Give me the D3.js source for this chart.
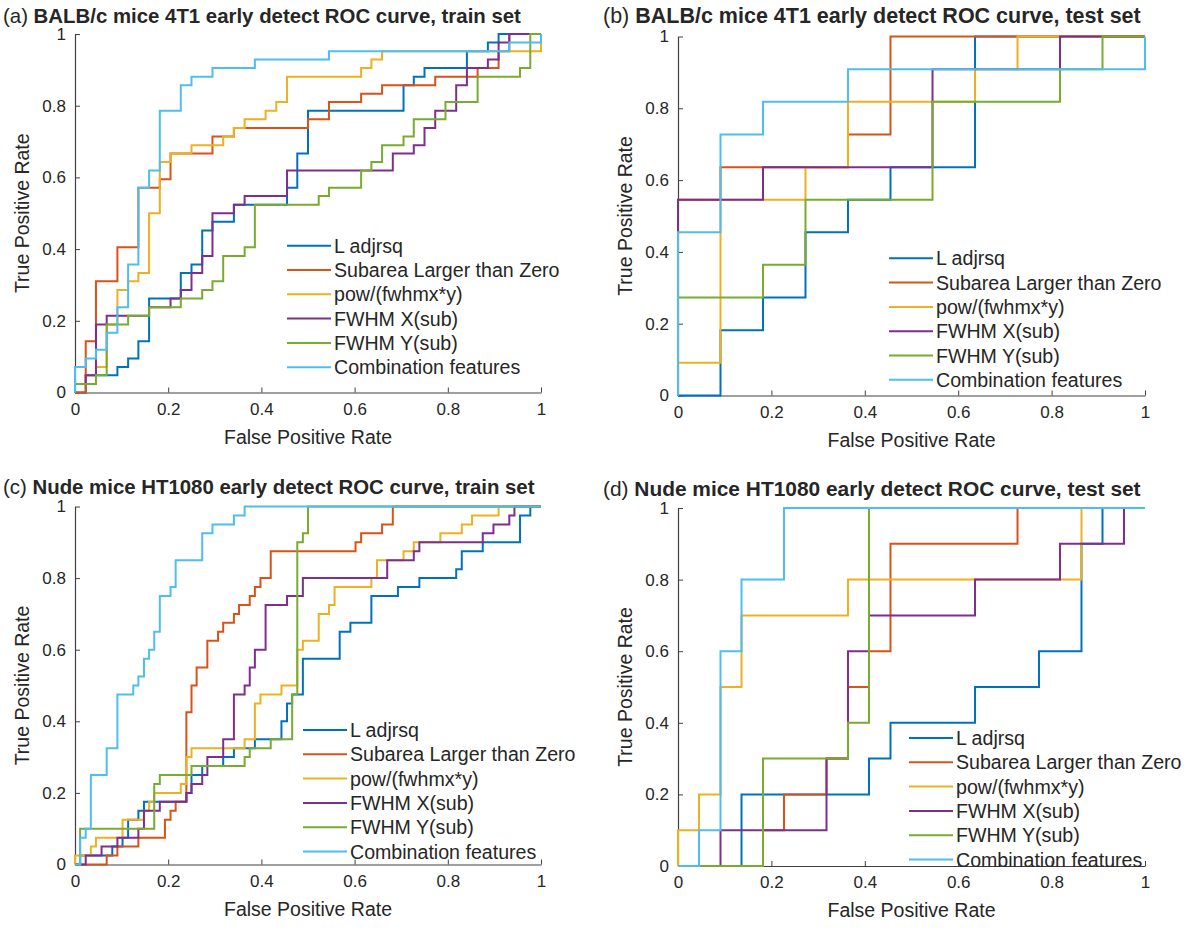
<!DOCTYPE html>
<html><head><meta charset="utf-8">
<script src="https://cdn.jsdelivr.net/npm/d3@7"></script>
<style>
body{margin:0;background:#fff}
text{font-family:"Liberation Sans",Arial,Helvetica,sans-serif;fill:#262626}
</style>
</head><body>
<svg id="chart" width="1194" height="930"></svg>
<script>
// ---------- shared ----------
const seriesNames = ["L adjrsq","Subarea Larger than Zero","pow/(fwhmx*y)","FWHM X(sub)","FWHM Y(sub)","Combination features"];
const seriesColors = ["#0072BD","#D95319","#EDB120","#7E2F8E","#77AC30","#4DBEEE"];
const tickValues = [0,0.2,0.4,0.6,0.8,1];
const tickLabels = ["0","0.2","0.4","0.6","0.8","1"];
const panelTitles = [
  ["(a) ","BALB/c mice 4T1 early detect ROC curve, train set"],
  ["(b) ","BALB/c mice 4T1 early detect ROC curve, test set"],
  ["(c) ","Nude mice HT1080 early detect ROC curve, train set"],
  ["(d) ","Nude mice HT1080 early detect ROC curve, test set"]
];
const xLabel = "False Positive Rate";
const yLabel = "True Positive Rate";

// ---------- (a) BALB/c train : [FPR, TPR] step corners ----------
const aL = [[0,0],[.023,.048],[.091,.071],[.114,.095],[.136,.143],[.159,.262],[.227,.333],[.25,.357],[.273,.452],[.295,.476],[.341,.524],[.455,.571],[.477,.667],[.5,.786],[.705,.857],[.727,.881],[.75,.905],[.841,.952],[.886,.976],[.909,1],[1,1]];
const aSub = [[0,0],[.023,.143],[.045,.31],[.091,.405],[.136,.571],[.182,.595],[.205,.667],[.295,.714],[.341,.738],[.5,.762],[.545,.81],[.614,.833],[.659,.857],[.773,.881],[.864,.905],[.909,.952],[.932,1],[1,1]];
const aPow = [[0,0],[0,.024],[.023,.048],[.045,.071],[.068,.19],[.091,.286],[.114,.31],[.136,.333],[.159,.5],[.182,.643],[.205,.667],[.25,.69],[.318,.714],[.341,.738],[.364,.762],[.409,.786],[.432,.81],[.455,.881],[.614,.905],[.636,.929],[.659,.952],[1,1]];
const aFx = [[0,0],[0,.024],[.023,.048],[.045,.19],[.068,.214],[.159,.238],[.205,.262],[.227,.286],[.25,.333],[.273,.381],[.295,.5],[.341,.524],[.364,.548],[.455,.619],[.682,.667],[.727,.69],[.75,.738],[.773,.786],[.818,.857],[.841,.905],[.886,.929],[.909,.976],[.932,1],[1,1]];
const aFy = [[0,0],[0,.024],[.045,.048],[.068,.19],[.114,.214],[.159,.238],[.227,.262],[.273,.286],[.295,.31],[.318,.381],[.364,.405],[.386,.524],[.523,.548],[.545,.571],[.614,.619],[.636,.643],[.659,.69],[.705,.714],[.727,.762],[.795,.81],[.864,.881],[.955,.905],[.977,1],[1,1]];
const aComb = [[0,0],[0,.071],[.023,.095],[.045,.119],[.068,.167],[.091,.238],[.114,.357],[.136,.571],[.159,.619],[.182,.786],[.227,.857],[.25,.881],[.295,.905],[.386,.929],[.545,.952],[.932,.976],[1,1]];

// ---------- (b) BALB/c test ----------
const bL = [[0,0],[.091,.182],[.182,.273],[.273,.455],[.364,.545],[.455,.636],[.636,1],[1,1]];
const bSub = [[0,0],[0,.545],[.091,.636],[.364,.727],[.455,1],[1,1]];
const bPow = [[0,0],[0,.091],[.091,.545],[.273,.636],[.364,.818],[.636,.909],[.727,1],[1,1]];
const bFx = [[0,0],[0,.545],[.182,.636],[.545,.909],[.818,1],[1,1]];
const bFy = [[0,0],[0,.273],[.182,.364],[.273,.545],[.545,.818],[.818,.909],[.909,1],[1,1]];
const bComb = [[0,0],[0,.455],[.091,.727],[.182,.818],[.364,.909],[1,1]];

// ---------- (c) Nude train ----------
const cL = [[0,0],[.011,.025],[.08,.05],[.102,.075],[.114,.125],[.136,.15],[.148,.175],[.239,.2],[.25,.25],[.273,.275],[.318,.3],[.341,.325],[.386,.35],[.443,.4],[.455,.45],[.466,.475],[.489,.575],[.568,.65],[.591,.675],[.636,.75],[.693,.775],[.739,.8],[.818,.825],[.83,.875],[.875,.9],[.955,.975],[.977,1],[1,1]];
const cSub = [[0,0],[.068,.025],[.091,.05],[.136,.075],[.193,.125],[.205,.15],[.216,.175],[.239,.425],[.25,.5],[.261,.55],[.284,.625],[.307,.65],[.318,.675],[.341,.7],[.352,.725],[.375,.75],[.386,.775],[.398,.8],[.42,.875],[.602,.9],[.614,.925],[.659,.95],[.682,1],[1,1]];
const cPow = [[0,0],[0,.025],[.034,.05],[.045,.075],[.102,.125],[.148,.15],[.159,.175],[.17,.2],[.227,.225],[.239,.3],[.25,.325],[.364,.35],[.386,.45],[.398,.475],[.443,.5],[.477,.6],[.489,.625],[.523,.7],[.545,.725],[.557,.775],[.636,.8],[.648,.85],[.705,.875],[.727,.9],[.784,.925],[.83,.95],[.852,.975],[.909,1],[1,1]];
const cFx = [[0,0],[.023,.025],[.057,.05],[.091,.075],[.136,.1],[.148,.15],[.182,.175],[.239,.2],[.25,.225],[.273,.25],[.284,.3],[.318,.35],[.341,.475],[.364,.5],[.375,.55],[.386,.6],[.409,.725],[.455,.75],[.489,.8],[.67,.85],[.727,.875],[.739,.9],[.875,.925],[.898,.95],[.932,.975],[.943,1],[1,1]];
const cFy = [[0,0],[.011,.1],[.17,.225],[.182,.25],[.25,.275],[.364,.3],[.375,.325],[.42,.35],[.466,.475],[.477,.9],[.489,.925],[.5,1],[1,1]];
const cComb = [[0,0],[.011,.075],[.023,.1],[.034,.25],[.068,.325],[.091,.475],[.125,.5],[.136,.525],[.148,.575],[.159,.6],[.17,.65],[.182,.75],[.205,.775],[.216,.85],[.273,.925],[.295,.95],[.341,.975],[.364,1],[1,1]];

// ---------- (d) Nude test ----------
const dL = [[0,0],[.136,.2],[.409,.3],[.455,.4],[.636,.5],[.773,.6],[.864,.9],[.909,1],[1,1]];
const dSub = [[0,0],[.182,.1],[.227,.2],[.318,.3],[.364,.5],[.409,.6],[.455,.9],[.727,1],[1,1]];
const dPow = [[0,0],[0,.1],[.045,.2],[.091,.5],[.136,.7],[.364,.8],[.864,1],[1,1]];
const dFx = [[0,0],[.091,.1],[.318,.3],[.364,.6],[.409,.7],[.636,.8],[.818,.9],[.955,1],[1,1]];
const dFy = [[0,0],[.182,.3],[.364,.4],[.409,1],[1,1]];
const dComb = [[0,0],[.045,.1],[.091,.6],[.136,.8],[.227,1],[1,1]];

// ---------- layout ----------
const panels = [
  {t:0, tx:3,   ty:22.5, ts:20.4, left:75,  top:34,   w:466, h:358.5, data:[aL,aSub,aPow,aFx,aFy,aComb], lx:287, ly:245.7},
  {t:1, tx:603, ty:23,   ts:21.5, left:678, top:36.5, w:467, h:359,   data:[bL,bSub,bPow,bFx,bFy,bComb], lx:889, ly:258.3},
  {t:2, tx:3,   ty:494,  ts:20.4, left:75,  top:506.5,w:466, h:358,   data:[cL,cSub,cPow,cFx,cFy,cComb], lx:303, ly:730},
  {t:3, tx:603, ty:495.5,ts:20.9, left:678, top:508,  w:467, h:358,   data:[dL,dSub,dPow,dFx,dFy,dComb], lx:909, ly:738}
];

const svg = d3.select("#chart");

panels.forEach(p => {
  const x = d3.scaleLinear().domain([0,1]).range([p.left, p.left + p.w]);
  const y = d3.scaleLinear().domain([0,1]).range([p.top + p.h, p.top]);

  // axes (box off, ticks inward)
  const gx = svg.append("g").attr("transform", `translate(0,${p.top + p.h})`)
    .call(d3.axisBottom(x).tickValues(tickValues).tickFormat((d,i)=>tickLabels[i])
      .tickSizeInner(-5).tickSizeOuter(0).tickPadding(10));
  const gy = svg.append("g").attr("transform", `translate(${p.left},0)`)
    .call(d3.axisLeft(y).tickValues(tickValues).tickFormat((d,i)=>tickLabels[i])
      .tickSizeInner(-5).tickSizeOuter(0).tickPadding(9));
  [gx, gy].forEach(g => {
    g.select(".domain").attr("stroke", "#404040").attr("stroke-width", 1.2);
    g.selectAll(".tick line").attr("stroke", "#404040").attr("stroke-width", 1);
    g.selectAll(".tick text").attr("font-size", 17).attr("fill", "#262626")
      .style("font-family", '"Liberation Sans",Arial,sans-serif');
  });

  // curves
  const line = d3.line().x(d => x(d[0])).y(d => y(d[1])).curve(d3.curveStepAfter);
  p.data.forEach((s, i) => {
    svg.append("path").datum(s).attr("d", line)
      .attr("fill", "none").attr("stroke", seriesColors[i]).attr("stroke-width", 2)
      .attr("stroke-linejoin", "miter");
  });

  // title
  const tt = svg.append("text").attr("x", p.tx).attr("y", p.ty).attr("font-size", p.ts);
  tt.append("tspan").text(panelTitles[p.t][0]);
  tt.append("tspan").attr("font-weight", "bold").text(panelTitles[p.t][1]);

  // axis labels
  svg.append("text").attr("x", p.left + p.w / 2).attr("y", p.top + p.h + 51)
    .attr("text-anchor", "middle").attr("font-size", 19.5).text(xLabel);
  svg.append("text").attr("transform", `translate(${p.left - 46},${p.top + p.h / 2}) rotate(-90)`)
    .attr("text-anchor", "middle").attr("font-size", 19.5).text(yLabel);

  // legend
  const lg = svg.append("g");
  seriesNames.forEach((n, i) => {
    const yy = p.ly + i * 24.3;
    lg.append("line").attr("x1", p.lx).attr("x2", p.lx + 44).attr("y1", yy).attr("y2", yy)
      .attr("stroke", seriesColors[i]).attr("stroke-width", 2);
    lg.append("text").attr("x", p.lx + 47).attr("y", yy + 7).attr("font-size", 19.6).text(n);
  });
});
</script>
</body></html>
